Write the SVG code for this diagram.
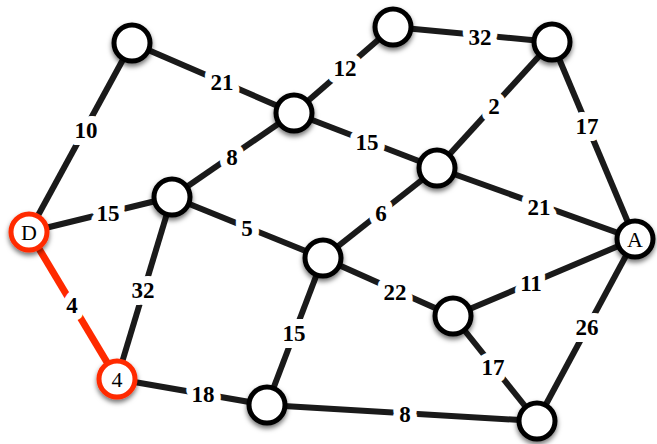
<svg xmlns="http://www.w3.org/2000/svg" width="657" height="444" viewBox="0 0 657 444">
<style>
.e{stroke:#1a1a1a;stroke-width:6;fill:none}
.r{stroke:#ff2a00;stroke-width:7;fill:none}
.n{fill:#fff;stroke:#000;stroke-width:5}
.nr{fill:#fff;stroke:#ff2a00;stroke-width:5}
.l{font-family:"Liberation Serif",serif;font-weight:bold;font-size:23px;text-anchor:middle;dominant-baseline:central;fill:#000;stroke:#fff;stroke-width:14;paint-order:stroke;stroke-linejoin:round}
.t{font-family:"Liberation Serif",serif;font-size:22px;text-anchor:middle;dominant-baseline:central;fill:#000}
</style>
<defs>
<filter id="sh" x="-50%" y="-50%" width="200%" height="200%">
<feDropShadow dx="0" dy="3" stdDeviation="2.5" flood-color="#000" flood-opacity="0.55"/>
</filter>
</defs>
<g id="connectors">
<line class="e" x1="132" y1="43" x2="29" y2="232"/>
<line class="e" x1="132" y1="43" x2="294" y2="113"/>
<line class="e" x1="294" y1="113" x2="393" y2="27"/>
<line class="e" x1="393" y1="27" x2="552" y2="42"/>
<line class="e" x1="552" y1="42" x2="437" y2="168"/>
<line class="e" x1="552" y1="42" x2="635" y2="239"/>
<line class="e" x1="294" y1="113" x2="437" y2="168"/>
<line class="e" x1="294" y1="113" x2="172" y2="197"/>
<line class="e" x1="437" y1="168" x2="635" y2="239"/>
<line class="e" x1="437" y1="168" x2="323" y2="258"/>
<line class="e" x1="29" y1="232" x2="172" y2="197"/>
<line class="e" x1="172" y1="197" x2="323" y2="258"/>
<line class="e" x1="172" y1="197" x2="117" y2="379"/>
<line class="r" x1="29" y1="232" x2="117" y2="379"/>
<line class="e" x1="323" y1="258" x2="453" y2="316"/>
<line class="e" x1="453" y1="316" x2="635" y2="239"/>
<line class="e" x1="323" y1="258" x2="267" y2="405"/>
<line class="e" x1="117" y1="379" x2="267" y2="405"/>
<line class="e" x1="267" y1="405" x2="537" y2="421"/>
<line class="e" x1="453" y1="316" x2="537" y2="421"/>
<line class="e" x1="635" y1="239" x2="537" y2="421"/>
<text class="l" x="86" y="130">10</text>
<text class="l" x="222" y="82">21</text>
<text class="l" x="345" y="68">12</text>
<text class="l" x="480" y="37">32</text>
<text class="l" x="494" y="106">2</text>
<text class="l" x="587" y="126">17</text>
<text class="l" x="367" y="142">15</text>
<text class="l" x="232" y="157">8</text>
<text class="l" x="539" y="207">21</text>
<text class="l" x="108" y="213">15</text>
<text class="l" x="247" y="228">5</text>
<text class="l" x="381" y="213">6</text>
<text class="l" x="143" y="290">32</text>
<text class="l" x="72" y="305">4</text>
<text class="l" x="395" y="292">22</text>
<text class="l" x="531" y="283">11</text>
<text class="l" x="294" y="333">15</text>
<text class="l" x="587" y="327">26</text>
<text class="l" x="493" y="367">17</text>
<text class="l" x="203" y="394">18</text>
<text class="l" x="405" y="414">8</text>
</g>
<g id="n1"><circle class="n" cx="132" cy="43" r="18" filter="url(#sh)"/></g>
<g id="n2"><circle class="n" cx="393" cy="27" r="18" filter="url(#sh)"/></g>
<g id="n3"><circle class="n" cx="552" cy="42" r="18" filter="url(#sh)"/></g>
<g id="n4"><circle class="n" cx="294" cy="113" r="18" filter="url(#sh)"/></g>
<g id="n5"><circle class="n" cx="437" cy="168" r="18" filter="url(#sh)"/></g>
<g id="n6"><circle class="n" cx="172" cy="197" r="18" filter="url(#sh)"/></g>
<g id="n7"><circle class="n" cx="323" cy="258" r="18" filter="url(#sh)"/></g>
<g id="n8"><circle class="n" cx="453" cy="316" r="18" filter="url(#sh)"/></g>
<g id="n9"><circle class="n" cx="267" cy="405" r="18" filter="url(#sh)"/></g>
<g id="n10"><circle class="n" cx="537" cy="421" r="18" filter="url(#sh)"/></g>
<g id="nA"><circle class="n" cx="635" cy="239" r="18" filter="url(#sh)"/><text class="t" x="635" y="239">A</text></g>
<g id="nD"><circle class="nr" cx="29" cy="232" r="18" filter="url(#sh)"/><text class="t" x="29" y="232">D</text></g>
<g id="n4r"><circle class="nr" cx="117" cy="379" r="18" filter="url(#sh)"/><text class="t" x="117" y="379">4</text></g>
</svg>
